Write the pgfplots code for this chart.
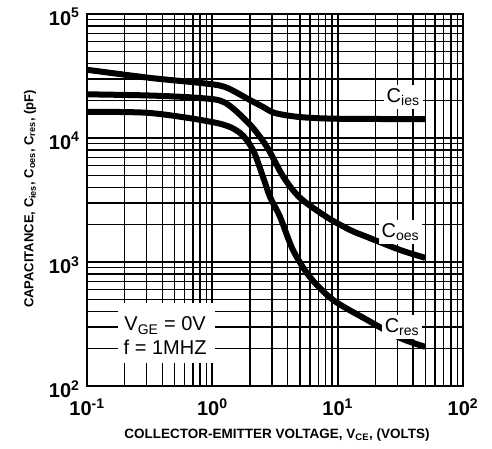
\documentclass[border=0pt]{standalone}
\usepackage{fontspec}
\setmainfont{Liberation Sans}
\usepackage{pgfplots}
\pgfplotsset{compat=1.18}
\begin{document}
\begin{tikzpicture}
\begin{axis}[
  at={(0,0)}, anchor=south west,
  xmode=log, ymode=log,
  scale only axis, width=376pt, height=372pt,
  xmin=0.1, xmax=100, ymin=100, ymax=100000,
  xtick={0.1,1,10,100},
  xticklabels={10\textsuperscript{-1},10\textsuperscript{0},10\textsuperscript{1},10\textsuperscript{2}},
  ytick={100,1000,10000,100000},
  yticklabels={10\textsuperscript{2},10\textsuperscript{3},10\textsuperscript{4},10\textsuperscript{5}},
  minor xtick={0.2,0.3,0.4,0.5,0.6,0.7,0.8,0.9,2,3,4,5,6,7,8,9,20,30,40,50,60,70,80,90},
  minor ytick={200,300,400,500,600,700,800,900,2000,3000,4000,5000,6000,7000,8000,9000,20000,30000,40000,50000,60000,70000,80000,90000},
  grid=both,
  major grid style={black, line width=1.7pt},
  minor grid style={black, line width=1.4pt},
  axis line style={line width=2.5pt},
  tick style={draw=none},
  xticklabel style={font=\bfseries\fontsize{20}{22}\selectfont, yshift=-9pt},
  yticklabel style={font=\bfseries\fontsize{20}{22}\selectfont, xshift=-4pt, yshift=-3pt},
]
\addplot[black, line width=6pt, smooth] coordinates {
 (0.1,35500) (0.32,30500) (0.8,27800) (1.26,25800) (2.0,20200) (2.54,17800) (3.16,15900) (5.0,14750) (10,14300) (50,14200)};
\addplot[black, line width=6pt, smooth] coordinates {
 (0.1,22500) (0.32,22000) (0.8,21000) (1.26,19300) (2.0,12800) (2.73,8450) (3.67,4900) (5.0,3300) (8.2,2300) (12.6,1810) (17.2,1590) (31.5,1250) (50,1080)};
\addplot[black, line width=6pt, smooth] coordinates {
 (0.1,16200) (0.32,15900) (1.09,13200) (1.66,11000) (2.11,8000) (2.54,4840) (2.89,3340) (3.47,2310) (4.4,1250) (6.0,757) (9.2,494) (17.2,341) (31.5,244) (50,207)};
\fill[white] (axis cs:0.177,153) rectangle (axis cs:1.05,467);
\node[align=center, font=\fontsize{20}{24}\selectfont] at (axis cs:0.42,253) {V\textsubscript{GE} = 0V\\ f = 1MHZ};
\node[fill=white, inner sep=3pt, font=\fontsize{20}{22}\selectfont] at (axis cs:33.3,21400) {C\textsubscript{ies}};
\node[fill=white, inner sep=3pt, font=\fontsize{20}{22}\selectfont] at (axis cs:31.7,1745) {C\textsubscript{oes}};
\node[fill=white, inner sep=3pt, font=\fontsize{20}{22}\selectfont] at (axis cs:32.6,299) {C\textsubscript{res}};
\end{axis}
\node[font=\bfseries\fontsize{13.5}{16}\selectfont] at (190pt,-49pt) {COLLECTOR-EMITTER VOLTAGE, V\textsubscript{CE}, (VOLTS)};
\node[rotate=90, font=\bfseries\fontsize{13}{15}\selectfont] at (-57pt,187pt) {CAPACITANCE, C\textsubscript{ies}, C\textsubscript{oes}, C\textsubscript{res}, (pF)};
\pgfresetboundingbox
\path[use as bounding box] (-87pt,-63pt) rectangle (405pt,386pt);
\end{tikzpicture}
\end{document}
